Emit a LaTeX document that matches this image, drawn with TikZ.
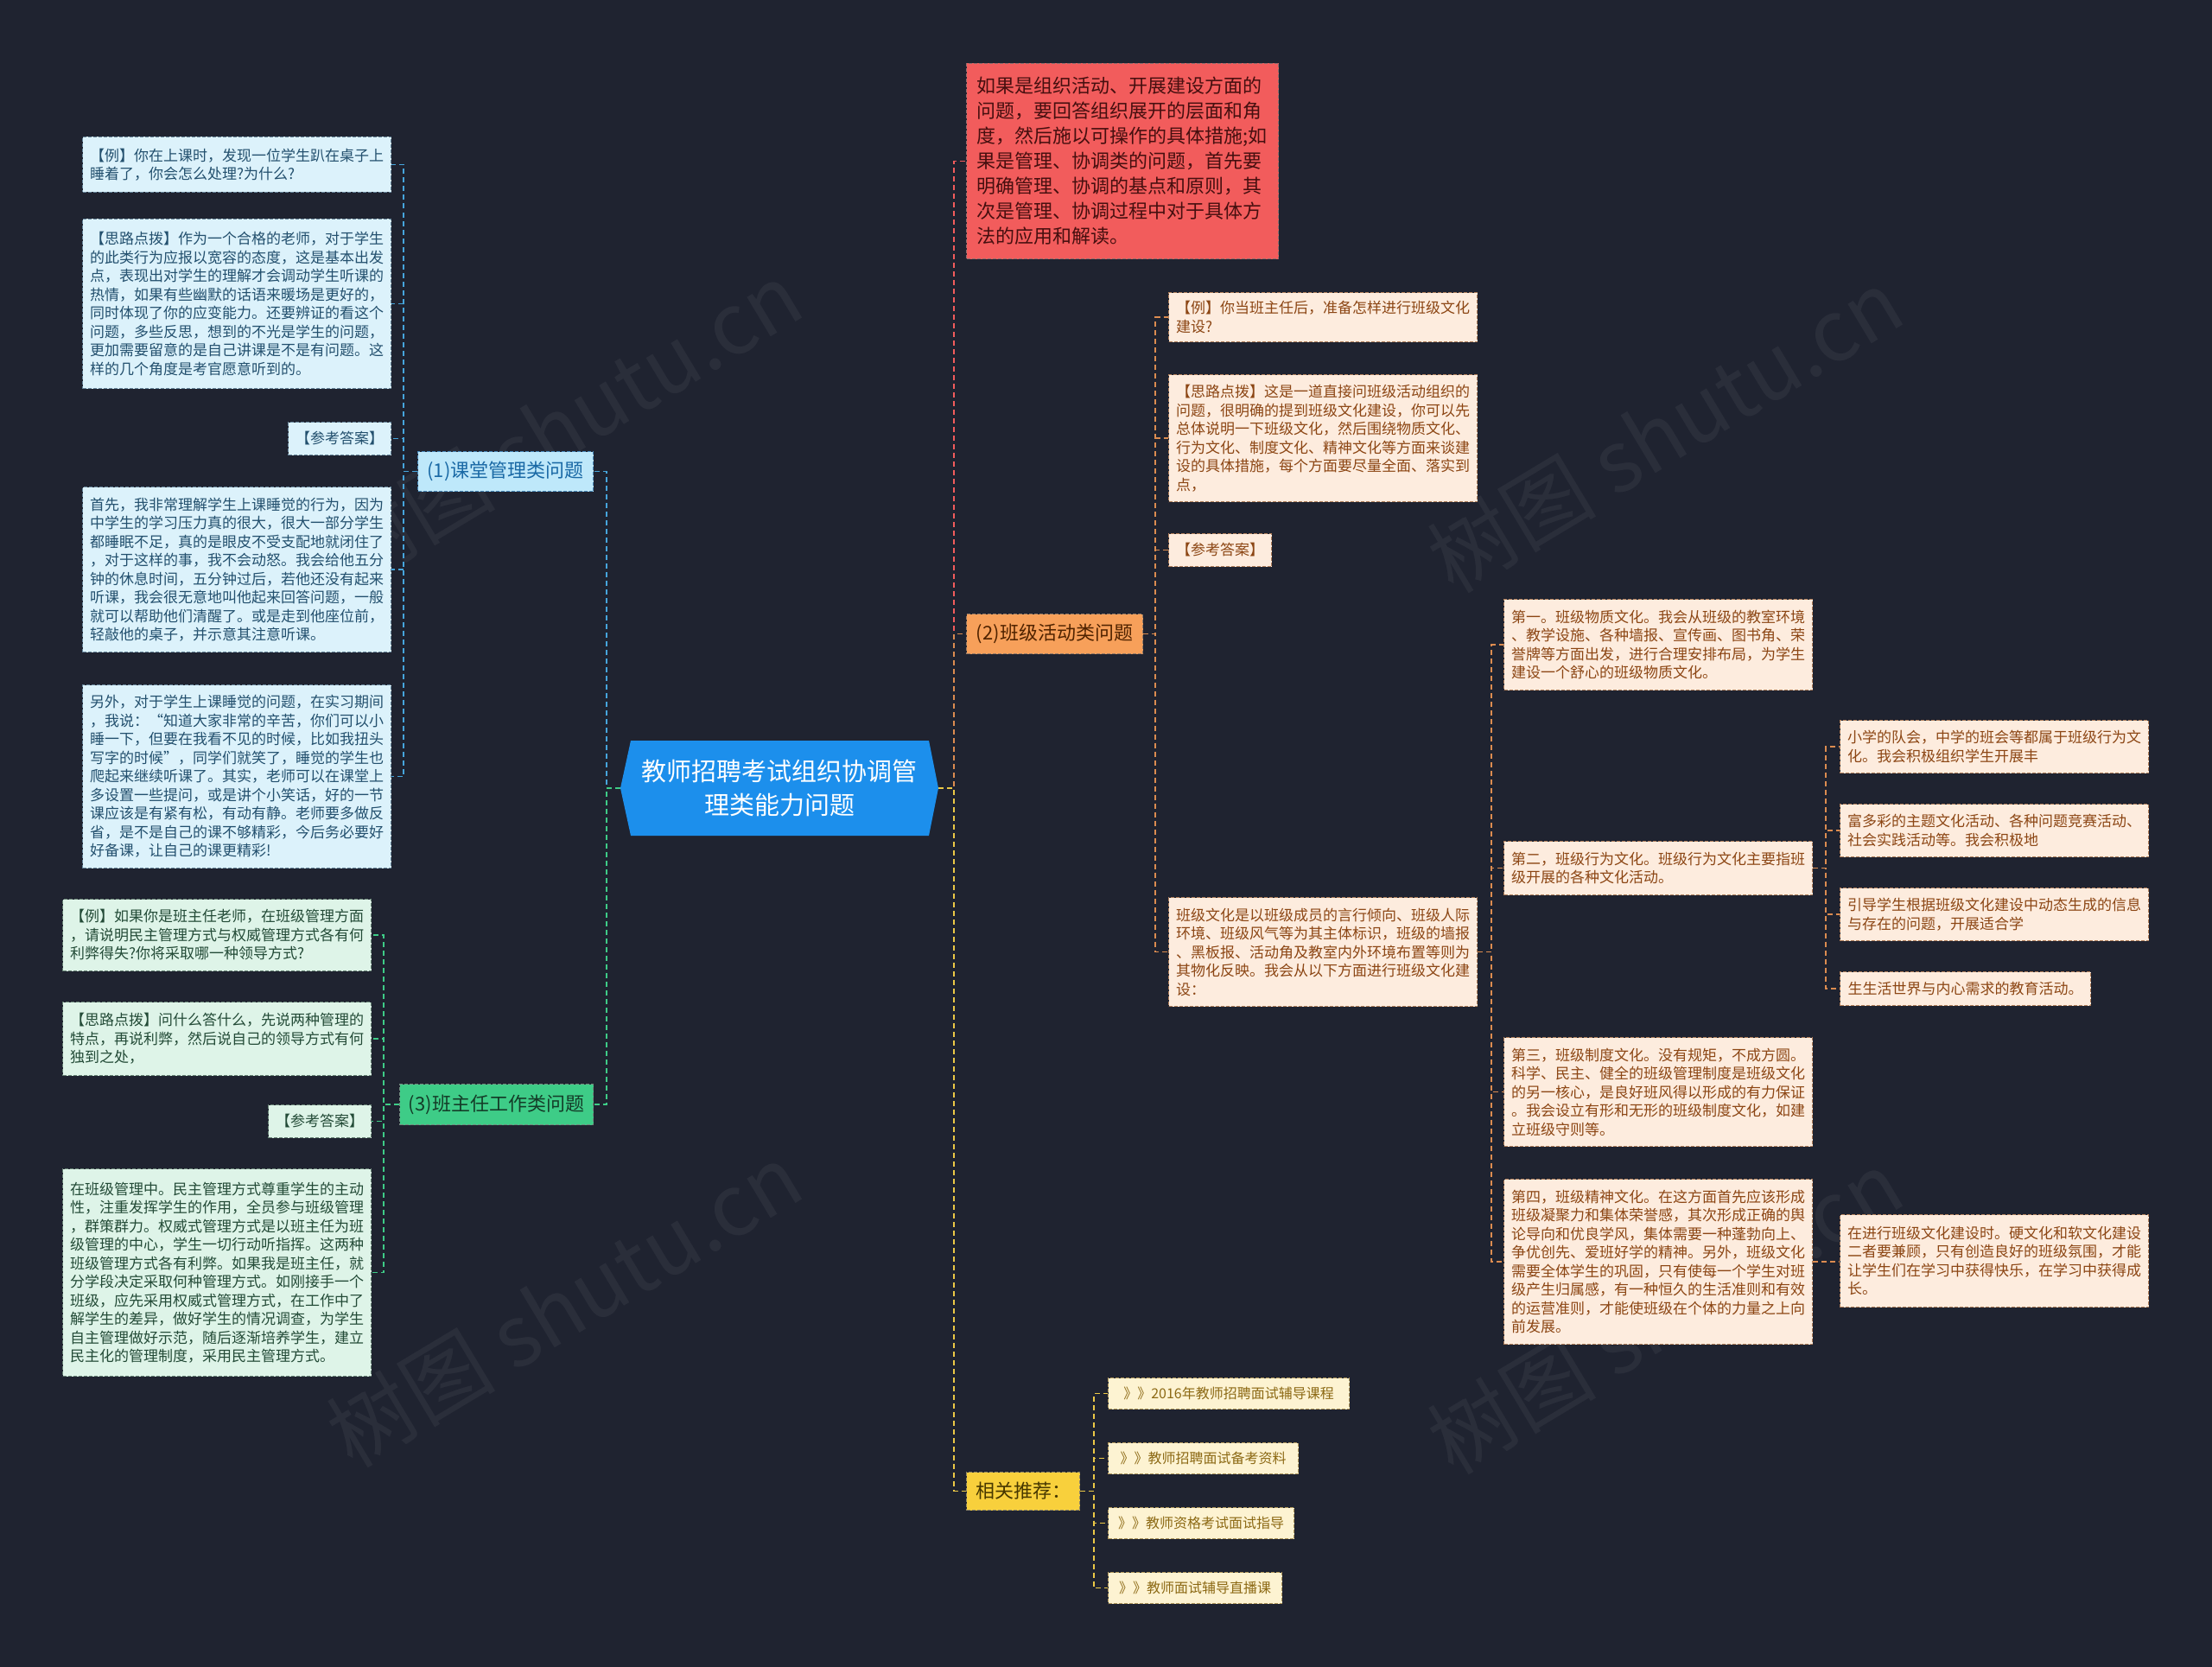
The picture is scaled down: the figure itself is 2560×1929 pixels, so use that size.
\documentclass[tikz,border=0pt]{standalone}
\usepackage{fontspec}
\setmainfont{Noto Sans CJK SC}
\definecolor{bgc}{RGB}{31,35,48}
\definecolor{cfill}{RGB}{28,143,236}
\definecolor{bfill}{RGB}{190,232,250}
\definecolor{btext}{RGB}{25,105,165}
\definecolor{bline}{RGB}{70,165,220}
\definecolor{blfill}{RGB}{220,242,251}
\definecolor{bltext}{RGB}{35,80,110}
\definecolor{gfill}{RGB}{62,204,135}
\definecolor{gtext}{RGB}{20,60,40}
\definecolor{gline}{RGB}{62,204,135}
\definecolor{glfill}{RGB}{222,244,232}
\definecolor{gltext}{RGB}{35,75,55}
\definecolor{ofill}{RGB}{247,160,90}
\definecolor{otext}{RGB}{80,35,0}
\definecolor{oline}{RGB}{220,140,80}
\definecolor{olfill}{RGB}{253,236,222}
\definecolor{oltext}{RGB}{140,70,20}
\definecolor{rfill}{RGB}{242,92,92}
\definecolor{rtext}{RGB}{70,15,15}
\definecolor{rline}{RGB}{242,92,92}
\definecolor{yfill}{RGB}{248,208,60}
\definecolor{ytext}{RGB}{70,55,0}
\definecolor{yline}{RGB}{235,200,70}
\definecolor{ylfill}{RGB}{253,243,210}
\definecolor{yltext}{RGB}{140,105,20}
\tikzset{
  box/.style={rectangle, draw, dashed, dash pattern=on 4pt off 2pt, line width=1pt, anchor=north west, align=left, inner ysep=0pt},
  leafbox/.style={box, text width=340pt, inner xsep=8.5pt, font=\fontsize{17pt}{21.5pt}\selectfont},
  bleaf/.style={leafbox, fill=blfill, text=bltext, draw=bltext!70},
  gleaf/.style={leafbox, fill=glfill, text=gltext, draw=gltext!70},
  oleaf/.style={leafbox, fill=olfill, text=oltext, draw=oltext!70},
  smallbox/.style={box, inner xsep=8pt, font=\fontsize{17pt}{21.5pt}\selectfont},
  recbox/.style={box, inner xsep=8pt, fill=ylfill, text=yltext, draw=yltext!70, font=\fontsize{16pt}{20pt}\selectfont},
  branch/.style={box, inner xsep=8pt, font=\fontsize{22pt}{27pt}\selectfont},
  conn/.style={line width=1.6pt, dash pattern=on 6pt off 4pt},
  wm/.style={text=white, opacity=0.05, rotate=31, font=\fontsize{98pt}{110pt}\selectfont}
}
\begin{document}
\begin{tikzpicture}[x=1pt,y=-1pt]
\useasboundingbox (0,0) rectangle (2560,1929);
\fill[bgc] (0,0) rectangle (2560,1929);

% watermarks
\node[wm] (wm1) at (653,490) {树图 shutu.cn};
\node[wm] (wm2) at (1927,498) {树图 shutu.cn};
\node[wm] (wm3) at (653,1510) {树图 shutu.cn};
\node[wm] (wm4) at (1927,1518) {树图 shutu.cn};

% center
\fill[cfill] (718,912) -- (730,857) -- (1075,857) -- (1086,912) -- (1075,967) -- (730,967) -- cycle;
\node[minimum width=368pt, minimum height=110pt, inner sep=0pt, text=white, align=center,
  font=\fontsize{29pt}{39pt}\selectfont] (c) at (902,912) {教师招聘考试组织协调管\\理类能力问题};

% left branch 1
\node[branch, fill=bfill, text=btext, draw=btext!80, minimum width=203pt, minimum height=46pt] (b1) at (483,522) {(1)课堂管理类问题};
\node[bleaf, minimum height=64pt] (l1a) at (95,158) {【例】你在上课时，发现一位学生趴在桌子上\\睡着了，你会怎么处理?为什么?};
\node[bleaf, minimum height=196pt] (l1b) at (95,253) {【思路点拨】作为一个合格的老师，对于学生\\的此类行为应报以宽容的态度，这是基本出发\\点，表现出对学生的理解才会调动学生听课的\\热情，如果有些幽默的话语来暖场是更好的，\\同时体现了你的应变能力。还要辨证的看这个\\问题，多些反思，想到的不光是学生的问题，\\更加需要留意的是自己讲课是不是有问题。这\\样的几个角度是考官愿意听到的。};
\node[smallbox, fill=blfill, text=bltext, draw=bltext!70, minimum width=119pt, minimum height=38pt] (l1c) at (333,488) {【参考答案】};
\node[bleaf, minimum height=191pt] (l1d) at (95,563) {首先，我非常理解学生上课睡觉的行为，因为\\中学生的学习压力真的很大，很大一部分学生\\都睡眠不足，真的是眼皮不受支配地就闭住了\\，对于这样的事，我不会动怒。我会给他五分\\钟的休息时间，五分钟过后，若他还没有起来\\听课，我会很无意地叫他起来回答问题，一般\\就可以帮助他们清醒了。或是走到他座位前，\\轻敲他的桌子，并示意其注意听课。};
\node[bleaf, minimum height=212pt] (l1e) at (95,792) {另外，对于学生上课睡觉的问题，在实习期间\\，我说：“知道大家非常的辛苦，你们可以小\\睡一下，但要在我看不见的时候，比如我扭头\\写字的时候”，同学们就笑了，睡觉的学生也\\爬起来继续听课了。其实，老师可以在课堂上\\多设置一些提问，或是讲个小笑话，好的一节\\课应该是有紧有松，有动有静。老师要多做反\\省，是不是自己的课不够精彩，今后务必要好\\好备课，让自己的课更精彩!};

% left branch 3
\node[branch, fill=gfill, text=gtext, draw=gtext!60, minimum width=224pt, minimum height=47pt] (b3) at (462,1254) {(3)班主任工作类问题};
\node[gleaf, minimum height=83pt] (l3a) at (72,1040) {【例】如果你是班主任老师，在班级管理方面\\，请说明民主管理方式与权威管理方式各有何\\利弊得失?你将采取哪一种领导方式?};
\node[gleaf, minimum height=85pt] (l3b) at (72,1159) {【思路点拨】问什么答什么，先说两种管理的\\特点，再说利弊，然后说自己的领导方式有何\\独到之处，};
\node[smallbox, fill=glfill, text=gltext, draw=gltext!70, minimum width=119pt, minimum height=38pt] (l3c) at (310,1278) {【参考答案】};
\node[gleaf, minimum height=240pt] (l3d) at (72,1352) {在班级管理中。民主管理方式尊重学生的主动\\性，注重发挥学生的作用，全员参与班级管理\\，群策群力。权威式管理方式是以班主任为班\\级管理的中心，学生一切行动听指挥。这两种\\班级管理方式各有利弊。如果我是班主任，就\\分学段决定采取何种管理方式。如刚接手一个\\班级，应先采用权威式管理方式，在工作中了\\解学生的差异，做好学生的情况调查，为学生\\自主管理做好示范，随后逐渐培养学生，建立\\民主化的管理制度，采用民主管理方式。};

% red box
\node[box, fill=rfill, text=rtext, draw=rtext!60, text width=337pt, inner xsep=12pt, minimum height=226pt,
  font=\fontsize{22pt}{29pt}\selectfont] (red) at (1118,73) {如果是组织活动、开展建设方面的\\问题，要回答组织展开的层面和角\\度，然后施以可操作的具体措施;如\\果是管理、协调类的问题，首先要\\明确管理、协调的基点和原则，其\\次是管理、协调过程中对于具体方\\法的应用和解读。};

% right branch 2
\node[branch, fill=ofill, text=otext, draw=otext!60, minimum width=204pt, minimum height=46pt] (b2) at (1118,710) {(2)班级活动类问题};
\node[oleaf, minimum height=57pt] (r2a) at (1352,338) {【例】你当班主任后，准备怎样进行班级文化\\建设?};
\node[oleaf, minimum height=147pt] (r2b) at (1352,433) {【思路点拨】这是一道直接问班级活动组织的\\问题，很明确的提到班级文化建设，你可以先\\总体说明一下班级文化，然后围绕物质文化、\\行为文化、制度文化、精神文化等方面来谈建\\设的具体措施，每个方面要尽量全面、落实到\\点，};
\node[smallbox, fill=olfill, text=oltext, draw=oltext!70, minimum width=119pt, minimum height=38pt] (r2c) at (1352,617) {【参考答案】};
\node[oleaf, minimum height=126pt] (r2d) at (1352,1038) {班级文化是以班级成员的言行倾向、班级人际\\环境、班级风气等为其主体标识，班级的墙报\\、黑板报、活动角及教室内外环境布置等则为\\其物化反映。我会从以下方面进行班级文化建\\设：};
\node[oleaf, minimum height=105pt] (r2d1) at (1740,693) {第一。班级物质文化。我会从班级的教室环境\\、教学设施、各种墙报、宣传画、图书角、荣\\誉牌等方面出发，进行合理安排布局，为学生\\建设一个舒心的班级物质文化。};
\node[oleaf, minimum height=62pt] (r2d2) at (1740,973) {第二，班级行为文化。班级行为文化主要指班\\级开展的各种文化活动。};
\node[oleaf, minimum height=126pt] (r2d3) at (1740,1200) {第三，班级制度文化。没有规矩，不成方圆。\\科学、民主、健全的班级管理制度是班级文化\\的另一核心，是良好班风得以形成的有力保证\\。我会设立有形和无形的班级制度文化，如建\\立班级守则等。};
\node[oleaf, minimum height=191pt] (r2d4) at (1740,1364) {第四，班级精神文化。在这方面首先应该形成\\班级凝聚力和集体荣誉感，其次形成正确的舆\\论导向和优良学风，集体需要一种蓬勃向上、\\争优创先、爱班好学的精神。另外，班级文化\\需要全体学生的巩固，只有使每一个学生对班\\级产生归属感，有一种恒久的生活准则和有效\\的运营准则，才能使班级在个体的力量之上向\\前发展。};
\node[oleaf, minimum height=61pt] (s1) at (2129,833) {小学的队会，中学的班会等都属于班级行为文\\化。我会积极组织学生开展丰};
\node[oleaf, minimum height=61pt] (s2) at (2129,930) {富多彩的主题文化活动、各种问题竞赛活动、\\社会实践活动等。我会积极地};
\node[oleaf, minimum height=61pt] (s3) at (2129,1027) {引导学生根据班级文化建设中动态生成的信息\\与存在的问题，开展适合学};
\node[smallbox, fill=olfill, text=oltext, draw=oltext!70, minimum width=290pt, minimum height=39pt] (s4) at (2129,1124) {生生活世界与内心需求的教育活动。};
\node[oleaf, minimum height=107pt] (s5) at (2129,1405) {在进行班级文化建设时。硬文化和软文化建设\\二者要兼顾，只有创造良好的班级氛围，才能\\让学生们在学习中获得快乐，在学习中获得成\\长。};

% recommend
\node[branch, fill=yfill, text=ytext, draw=ytext!60, minimum width=131pt, minimum height=44pt] (rec) at (1118,1703) {相关推荐：};
\node[recbox, minimum width=279pt, minimum height=36pt] (rc1) at (1282,1594) {》》2016年教师招聘面试辅导课程};
\node[recbox, minimum width=220pt, minimum height=36pt] (rc2) at (1282,1669) {》》教师招聘面试备考资料};
\node[recbox, minimum width=215pt, minimum height=36pt] (rc3) at (1282,1744) {》》教师资格考试面试指导};
\node[recbox, minimum width=201pt, minimum height=36pt] (rc4) at (1282,1819) {》》教师面试辅导直播课};

% connectors: center
\draw[conn, bline] (c.west) -- ++(-16,0) |- (b1.east);
\draw[conn, gline] (c.west) -- ++(-16,0) |- (b3.east);
\draw[conn, rline] (c.east) -- ++(18,0) |- (red.west);
\draw[conn, oline] (c.east) -- ++(18,0) |- (b2.west);
\draw[conn, yline] (c.east) -- ++(18,0) |- (rec.west);
% branch 1
\foreach \n in {l1a,l1b,l1c,l1d,l1e}{\draw[conn, bline] (b1.west) -- ++(-16,0) |- (\n.east);}
% branch 3
\foreach \n in {l3a,l3b,l3c,l3d}{\draw[conn, gline] (b3.west) -- ++(-18,0) |- (\n.east);}
% branch 2
\foreach \n in {r2a,r2b,r2c,r2d}{\draw[conn, oline] (b2.east) -- ++(14,0) |- (\n.west);}
\foreach \n in {r2d1,r2d2,r2d3,r2d4}{\draw[conn, oline] (r2d.east) -- ++(16,0) |- (\n.west);}
\foreach \n in {s1,s2,s3,s4}{\draw[conn, oline] (r2d2.east) -- ++(15,0) |- (\n.west);}
\draw[conn, oline] (r2d4.east) -- (s5.west|-r2d4.east);
% recommend
\foreach \n in {rc1,rc2,rc3,rc4}{\draw[conn, yline] (rec.east) -- ++(16,0) |- (\n.west);}
\end{tikzpicture}
\end{document}
